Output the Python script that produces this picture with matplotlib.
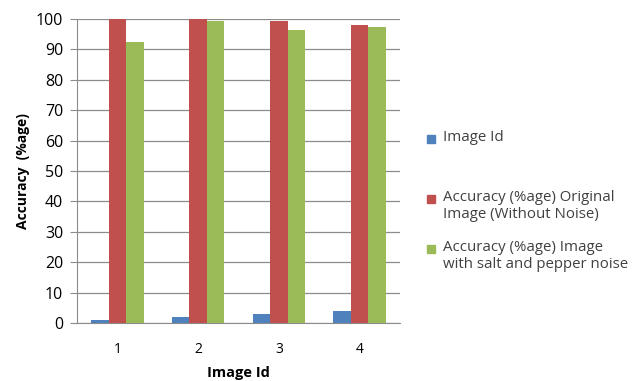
import numpy as np
import matplotlib.pyplot as plt
from matplotlib.patches import Rectangle

plt.rcParams['font.family'] = ['Open Sans', 'DejaVu Sans']

image_ids = ['1', '2', '3', '4']
id_values = [1, 2, 3, 4]
acc_original = [100, 100, 99.2, 98.1]
acc_noise = [92.3, 99.2, 96.5, 97.4]

labels = ['Image Id',
          'Accuracy (%age) Original\nImage (Without Noise)',
          'Accuracy (%age) Image\nwith salt and pepper noise']
colors = ['#4F81BD', '#C0504D', '#9BBB59']

fig = plt.figure(figsize=(6.41, 3.81), dpi=100)
ax = fig.add_axes([77 / 641, 58 / 381, 323 / 641, 304 / 381])

x = np.arange(len(image_ids))
w = 0.217
for i, vals in enumerate([id_values, acc_original, acc_noise]):
    ax.bar(x + (i - 1) * w, vals, width=w, color=colors[i], zorder=3)

ax.set_xlim(-0.5, len(image_ids) - 0.5)
ax.set_ylim(0, 100)
ax.set_yticks(range(0, 101, 10))
ax.set_xticks(x)
ax.set_xticklabels(image_ids)
ax.yaxis.grid(True, color='#8c8c8c', linewidth=0.9, zorder=0)

for s in ['top', 'right']:
    ax.spines[s].set_visible(False)
for s in ['left', 'bottom']:
    ax.spines[s].set_color('#8c8c8c')
ax.tick_params(axis='y', length=5, color='#8c8c8c', labelsize=11.5, pad=5)
ax.tick_params(axis='x', length=0, labelsize=10, pad=14)

ax.set_ylabel('Accuracy  (%age)', fontsize=10, fontweight='bold', labelpad=4)
ax.set_xlabel('Image Id', fontsize=10.5, fontweight='bold', labelpad=6)

# legend drawn by hand so the entry spacing can follow the layout
entry_y = [138, 198, 248]
for yy, lab, c in zip(entry_y, labels, colors):
    fig.patches.append(Rectangle((427 / 641, (381 - yy - 5) / 381), 8 / 641, 8 / 381,
                                 transform=fig.transFigure, color=c))
    fig.text(443 / 641, (381 - yy + 8) / 381, lab, fontsize=10.8, va='top',
             color='#404040', linespacing=1.2)

fig.savefig('out.png', dpi=100)
